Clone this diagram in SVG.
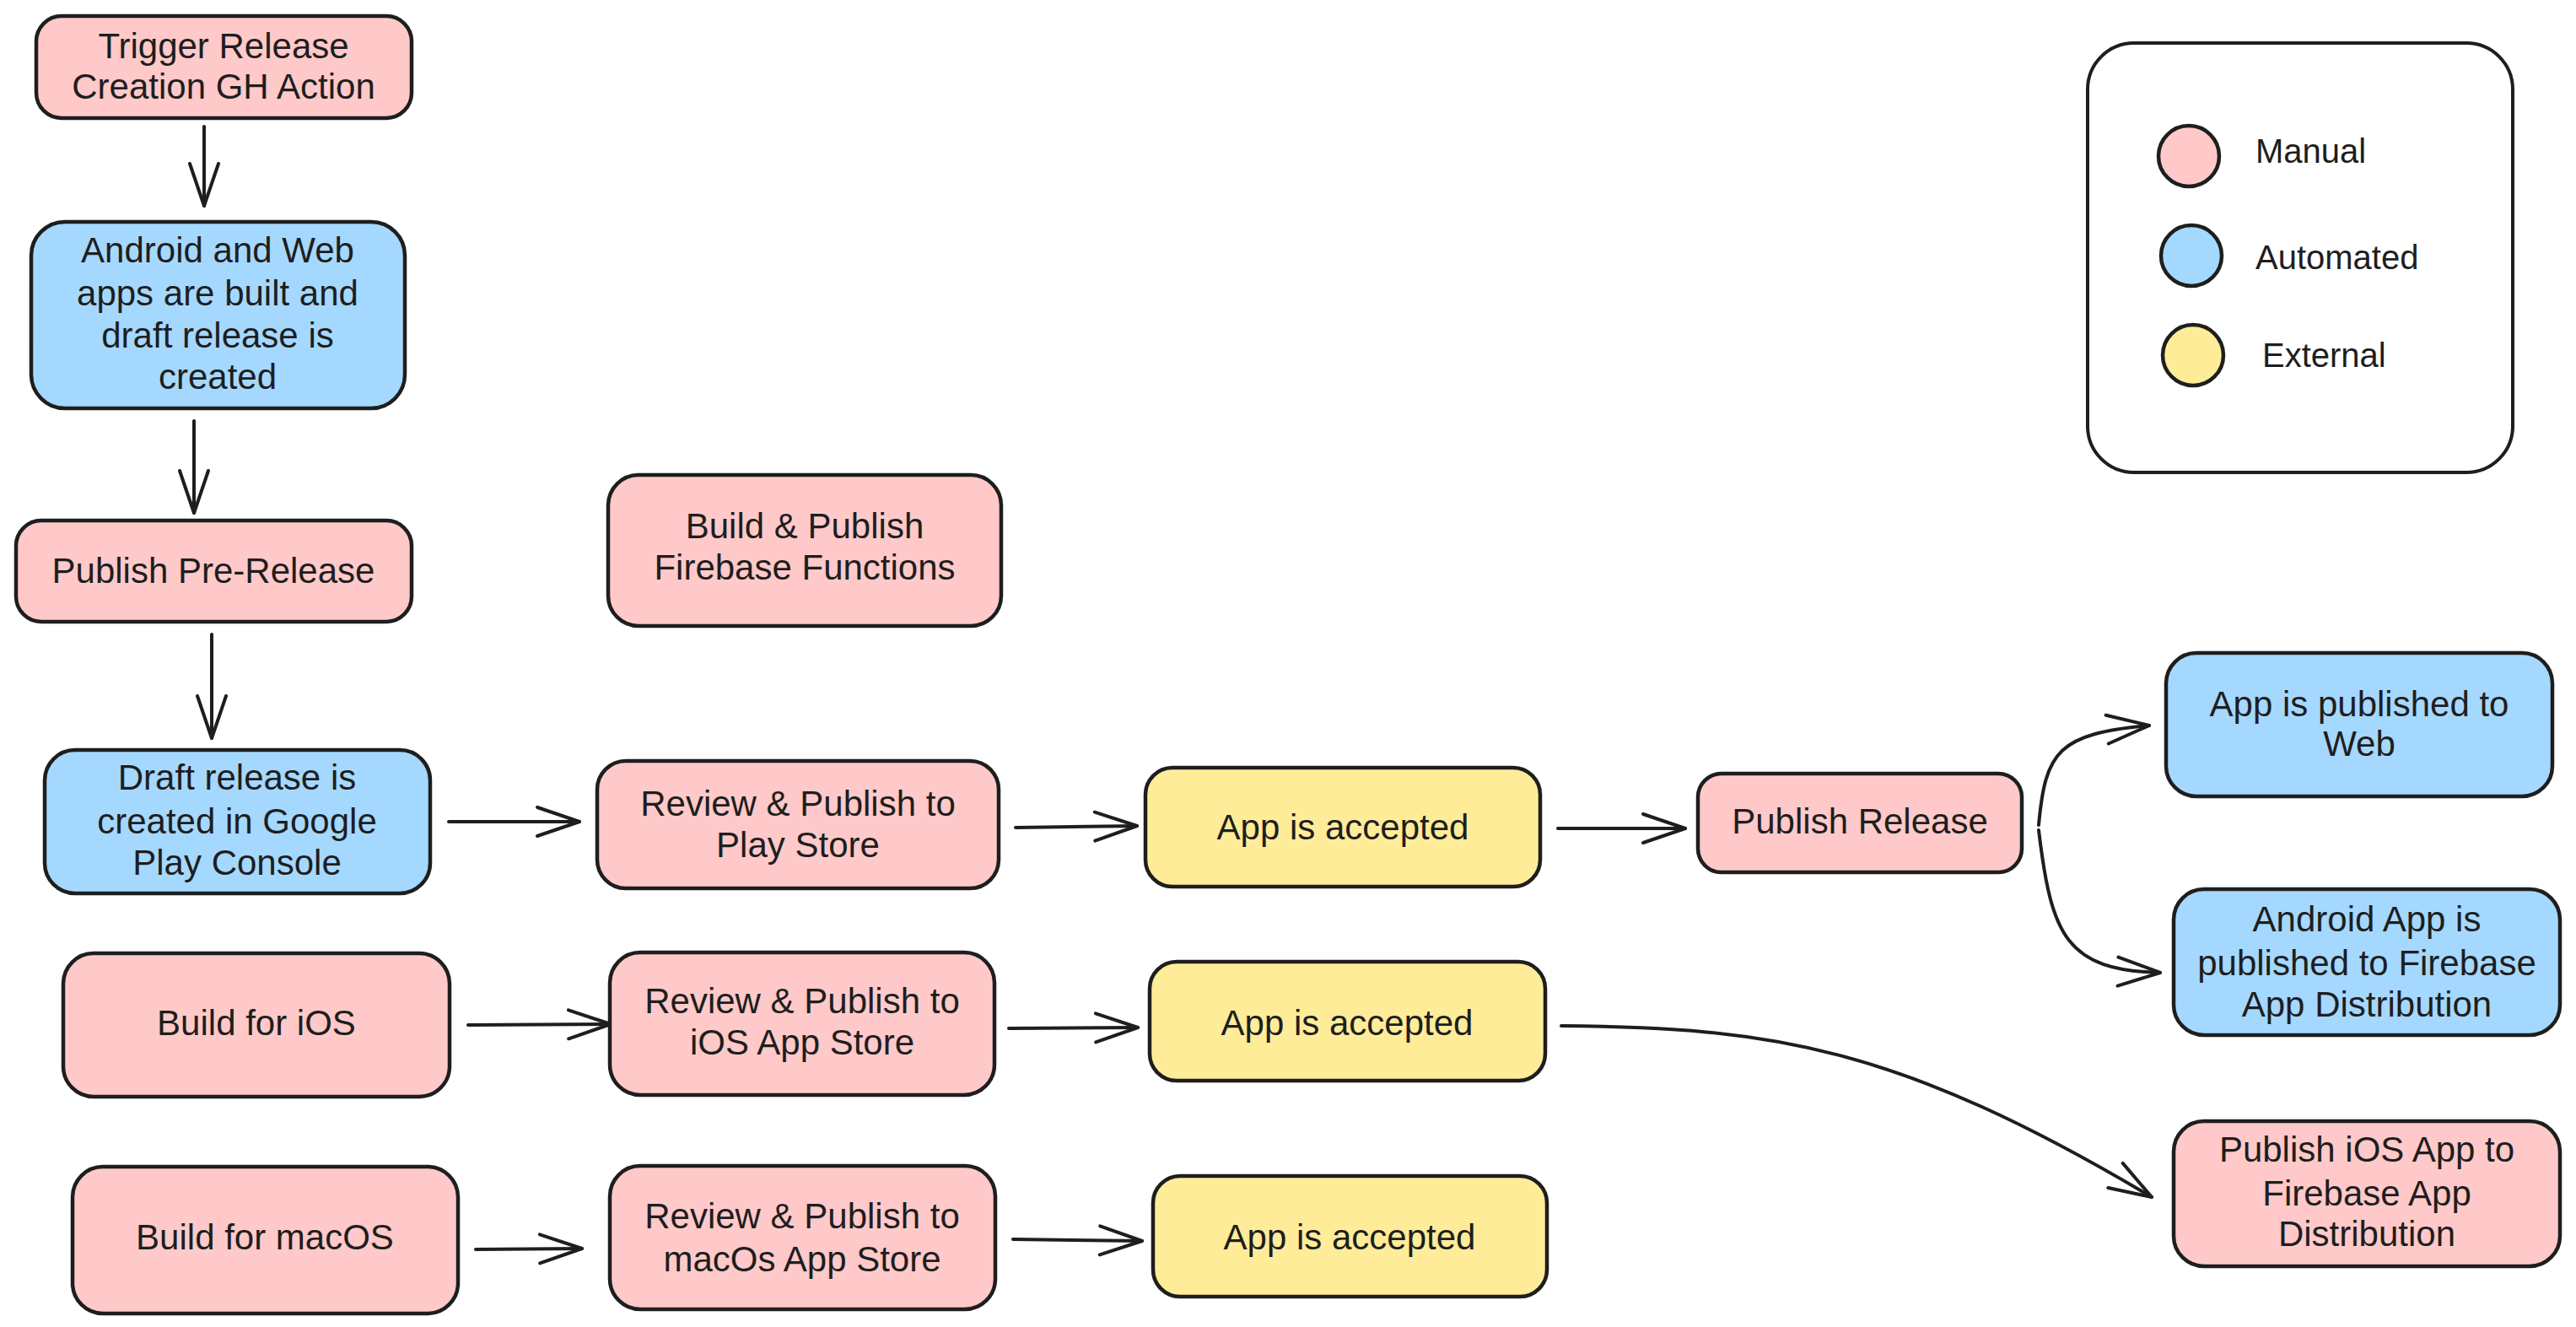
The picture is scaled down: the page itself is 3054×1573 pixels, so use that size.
<svg xmlns="http://www.w3.org/2000/svg" width="3054" height="1573" viewBox="0 0 3054 1573">
<defs>
<style>
.box{stroke:#1e1e1e;stroke-width:4.5;}
.manual{fill:#ffc9c9;}
.auto{fill:#a5d8ff;}
.ext{fill:#ffec99;}
.lbl{font-family:"Liberation Sans",Arial,sans-serif;font-size:42px;fill:#1e1e1e;text-anchor:middle;}
.leg{font-family:"Liberation Sans",Arial,sans-serif;font-size:40px;fill:#1e1e1e;}
.conn{fill:none;stroke:#1e1e1e;stroke-width:4;stroke-linecap:round;}
</style>
<marker id="arr" viewBox="-56 -22 60 44" refX="0" refY="0" markerWidth="60" markerHeight="44" markerUnits="userSpaceOnUse" orient="auto" overflow="visible">
<path d="M-50 -17 L0 0 L-50 17" fill="none" stroke="#1e1e1e" stroke-width="4" stroke-linecap="round" stroke-linejoin="round"/>
</marker>
</defs>
<rect width="3054" height="1573" fill="#ffffff"/>

<g id="connectors">
<path class="conn" d="M242 150 L242 244" marker-end="url(#arr)"/>
<path class="conn" d="M230 499 L230 608" marker-end="url(#arr)"/>
<path class="conn" d="M251 752 L251 875" marker-end="url(#arr)"/>
<path class="conn" d="M532 974 L687 974" marker-end="url(#arr)"/>
<path class="conn" d="M1204 981 L1348 979" marker-end="url(#arr)"/>
<path class="conn" d="M1847 982 L1998 982" marker-end="url(#arr)"/>
<path class="conn" d="M2417 978 C2425 890, 2440 870, 2548 860" marker-end="url(#arr)"/>
<path class="conn" d="M2417 984 C2432 1110, 2450 1150, 2561 1153" marker-end="url(#arr)"/>
<path class="conn" d="M555 1215 L724 1214" marker-end="url(#arr)"/>
<path class="conn" d="M1196 1219 L1349 1218" marker-end="url(#arr)"/>
<path class="conn" d="M1851 1216 C2100 1218, 2250 1240, 2551 1419" marker-end="url(#arr)"/>
<path class="conn" d="M564 1481 L690 1480" marker-end="url(#arr)"/>
<path class="conn" d="M1201 1469 L1354 1471" marker-end="url(#arr)"/>
</g>

<g id="n1">
<rect class="box manual" x="43" y="19" width="445" height="121" rx="30"/>
<text class="lbl" x="265" y="69">Trigger Release</text>
<text class="lbl" x="265" y="117">Creation GH Action</text>
</g>
<g id="n2">
<rect class="box auto" x="37" y="263" width="443" height="221" rx="40"/>
<text class="lbl" x="258" y="311">Android and Web</text>
<text class="lbl" x="258" y="362">apps are built and</text>
<text class="lbl" x="258" y="412">draft release is</text>
<text class="lbl" x="258" y="461">created</text>
</g>
<g id="n3">
<rect class="box manual" x="19" y="617" width="469" height="120" rx="30"/>
<text class="lbl" x="253" y="691">Publish Pre-Release</text>
</g>
<g id="n4">
<rect class="box manual" x="721" y="563" width="466" height="179" rx="36"/>
<text class="lbl" x="954" y="638">Build &amp; Publish</text>
<text class="lbl" x="954" y="687">Firebase Functions</text>
</g>
<g id="n5">
<rect class="box auto" x="53" y="889" width="457" height="170" rx="36"/>
<text class="lbl" x="281" y="936">Draft release is</text>
<text class="lbl" x="281" y="988">created in Google</text>
<text class="lbl" x="281" y="1037">Play Console</text>
</g>
<g id="n6">
<rect class="box manual" x="708" y="902" width="476" height="151" rx="34"/>
<text class="lbl" x="946" y="967">Review &amp; Publish to</text>
<text class="lbl" x="946" y="1016">Play Store</text>
</g>
<g id="n7">
<rect class="box ext" x="1358" y="910" width="468" height="141" rx="32"/>
<text class="lbl" x="1592" y="995">App is accepted</text>
</g>
<g id="n8">
<rect class="box manual" x="2013" y="917" width="384" height="117" rx="28"/>
<text class="lbl" x="2205" y="988">Publish Release</text>
</g>
<g id="n9">
<rect class="box auto" x="2568" y="774" width="458" height="170" rx="36"/>
<text class="lbl" x="2797" y="849">App is published to</text>
<text class="lbl" x="2797" y="896">Web</text>
</g>
<g id="n10">
<rect class="box auto" x="2577" y="1054" width="458" height="173" rx="36"/>
<text class="lbl" x="2806" y="1104">Android App is</text>
<text class="lbl" x="2806" y="1156">published to Firebase</text>
<text class="lbl" x="2806" y="1205">App Distribution</text>
</g>
<g id="n11">
<rect class="box manual" x="2577" y="1329" width="458" height="172" rx="36"/>
<text class="lbl" x="2806" y="1377">Publish iOS App to</text>
<text class="lbl" x="2806" y="1429">Firebase App</text>
<text class="lbl" x="2806" y="1477">Distribution</text>
</g>
<g id="n12">
<rect class="box manual" x="75" y="1130" width="458" height="170" rx="36"/>
<text class="lbl" x="304" y="1227">Build for iOS</text>
</g>
<g id="n13">
<rect class="box manual" x="723" y="1129" width="456" height="169" rx="36"/>
<text class="lbl" x="951" y="1201">Review &amp; Publish to</text>
<text class="lbl" x="951" y="1250">iOS App Store</text>
</g>
<g id="n14">
<rect class="box ext" x="1363" y="1140" width="469" height="141" rx="32"/>
<text class="lbl" x="1597" y="1227">App is accepted</text>
</g>
<g id="n15">
<rect class="box manual" x="86" y="1383" width="457" height="174" rx="36"/>
<text class="lbl" x="314" y="1481">Build for macOS</text>
</g>
<g id="n16">
<rect class="box manual" x="723" y="1382" width="457" height="170" rx="36"/>
<text class="lbl" x="951" y="1456">Review &amp; Publish to</text>
<text class="lbl" x="951" y="1507">macOs App Store</text>
</g>
<g id="n17">
<rect class="box ext" x="1367" y="1394" width="467" height="143" rx="32"/>
<text class="lbl" x="1600" y="1481">App is accepted</text>
</g>

<g id="legend">
<rect x="2475" y="51" width="504" height="509" rx="55" fill="#ffffff" stroke="#1e1e1e" stroke-width="4"/>
<g id="legend-manual">
<ellipse class="box manual" cx="2595" cy="185" rx="36" ry="36"/>
<text class="leg" x="2674" y="193">Manual</text>
</g>
<g id="legend-automated">
<ellipse class="box auto" cx="2598" cy="303" rx="36" ry="36"/>
<text class="leg" x="2674" y="319">Automated</text>
</g>
<g id="legend-external">
<ellipse class="box ext" cx="2600" cy="421" rx="36" ry="36"/>
<text class="leg" x="2682" y="435">External</text>
</g>
</g>
</svg>
